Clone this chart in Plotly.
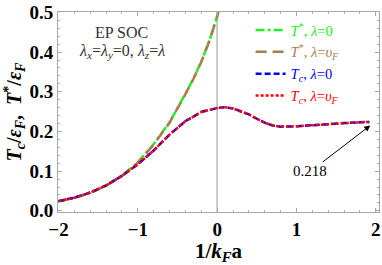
import plotly.graph_objects as go

# --- data ---
x_tstar = [-2.0, -1.8, -1.6, -1.4, -1.2, -1.0, -0.8, -0.6, -0.4, -0.3, -0.2, -0.1, 0.0, 0.02]
tstar_l0 = [0.024, 0.033, 0.045, 0.063, 0.089, 0.122, 0.168, 0.223, 0.295, 0.333, 0.376, 0.428, 0.49, 0.505]
tstar_lv = [0.024, 0.033, 0.045, 0.063, 0.088, 0.121, 0.167, 0.222, 0.294, 0.332, 0.375, 0.427, 0.489, 0.505]

x_tc = [-2.0, -1.8, -1.6, -1.4, -1.2, -1.0, -0.8, -0.6, -0.4, -0.2, 0.0, 0.1, 0.2, 0.3, 0.4, 0.5, 0.6, 0.7, 0.8,
        1.0, 1.2, 1.4, 1.6, 1.8, 1.92]
tc_l0 = [0.024, 0.033, 0.046, 0.064, 0.088, 0.117, 0.152, 0.192, 0.226, 0.249, 0.259, 0.261, 0.258, 0.251, 0.243,
         0.232, 0.222, 0.215, 0.212, 0.213, 0.216, 0.219, 0.221, 0.223, 0.224]
tc_lv = [0.024, 0.033, 0.046, 0.064, 0.088, 0.117, 0.152, 0.192, 0.226, 0.249, 0.259, 0.261, 0.258, 0.251, 0.243,
         0.232, 0.222, 0.215, 0.212, 0.213, 0.216, 0.219, 0.221, 0.223, 0.224]

x_ticks = [-2, -1, 0, 1, 2]
x_ticktext = ["−2", "−1", "0", "1", "2"]
y_ticks = [0.0, 0.1, 0.2, 0.3, 0.4, 0.5]

arrow_label = "0.218"
arrow_x, arrow_y = 1.93, 0.215

GREEN = "#22ee22"
BROWN = "#a97c50"
BLUE = "#0000ff"
RED = "#ff0000"
SERIF = "Liberation Serif"
FRAME = "#a8a8a8"

fig = go.Figure()
fig.add_trace(go.Scatter(x=x_tstar, y=tstar_l0, mode="lines", line=dict(color=GREEN, width=2.5, dash="dashdot"),
                         name='<span style="color:%s"><i>T</i><sup>*</sup>, <i>λ</i>=0</span>' % GREEN))
fig.add_trace(go.Scatter(x=x_tstar, y=tstar_lv, mode="lines", line=dict(color=BROWN, width=2.5, dash="11px,6px"),
                         name='<span style="color:%s"><i>T</i><sup>*</sup>, <i>λ</i>=<i>υ<sub>F</sub></i></span>' % BROWN))
fig.add_trace(go.Scatter(x=x_tc, y=tc_l0, mode="lines", line=dict(color=BLUE, width=2.5, dash="6px,3px"),
                         name='<span style="color:%s"><i>T<sub>c</sub></i>, <i>λ</i>=0</span>' % BLUE))
fig.add_trace(go.Scatter(x=x_tc, y=tc_lv, mode="lines", line=dict(color=RED, width=2.5, dash="3px,2px"),
                         name='<span style="color:%s"><i>T<sub>c</sub></i>, <i>λ</i>=<i>υ<sub>F</sub></i></span>' % RED))

fig.add_vline(x=0, line=dict(color="#b8b8b8", width=1.5), layer="below")

axis_common = dict(showgrid=False, zeroline=False, showline=True, linecolor=FRAME, linewidth=1,
                   mirror="allticks", ticks="inside", ticklen=4, tickcolor=FRAME, ticklabeloverflow="allow",
                   tickfont=dict(family=SERIF, size=19, color="black", weight="bold"))

fig.update_xaxes(range=[-2.006, 2.04], tickvals=x_ticks, ticktext=x_ticktext,
                 minor=dict(dtick=0.2, ticks="inside", ticklen=2, tickcolor=FRAME),
                 title=dict(text="1/<i>k<sub>F</sub></i>a", font=dict(family=SERIF, size=21, color="black", weight="bold"),
                            standoff=2),
                 **axis_common)
fig.update_yaxes(range=[-0.003, 0.501], tickvals=y_ticks, tickformat=".1f",
                 minor=dict(dtick=0.02, ticks="inside", ticklen=2, tickcolor=FRAME),
                 title=dict(text="<i>T<sub>c</sub></i>/<i>ε<sub>F</sub></i>,  <i>T</i><sup>*</sup>/<i>ε<sub>F</sub></i>",
                            font=dict(family=SERIF, size=20, color="black", weight="bold"), standoff=2),
                 **axis_common)

fig.add_annotation(xref="paper", yref="paper", x=0.198, y=0.8975, xanchor="center", yanchor="middle",
                   text="EP SOC", showarrow=False, font=dict(family=SERIF, size=16, color="#333333"))
fig.add_annotation(xref="paper", yref="paper", x=0.198, y=0.80, xanchor="center", yanchor="middle",
                   text="<i>λ<sub>x</sub></i>=<i>λ<sub>y</sub></i>=0, <i>λ<sub>z</sub></i>=<i>λ</i>", showarrow=False,
                   font=dict(family=SERIF, size=16, color="#333333"))
fig.add_annotation(x=arrow_x, y=arrow_y, text=arrow_label, showarrow=True, arrowhead=2, arrowsize=1.2,
                   arrowwidth=1, arrowcolor="black", ax=-60, ay=46,
                   font=dict(family=SERIF, size=15, color="black"))

fig.update_layout(width=382, height=265, margin=dict(l=58, r=1, t=12, b=53),
                  plot_bgcolor="white", paper_bgcolor="white",
                  legend=dict(x=0.60, y=0.99, xanchor="left", yanchor="top", bgcolor="rgba(0,0,0,0)",
                              font=dict(family=SERIF, size=14.5), tracegroupgap=0, itemwidth=30),
                  showlegend=True)

fig.write_html("out.html", config={"displayModeBar": False},
               post_script="document.body.style.margin='0px';document.body.style.overflow='hidden';")
